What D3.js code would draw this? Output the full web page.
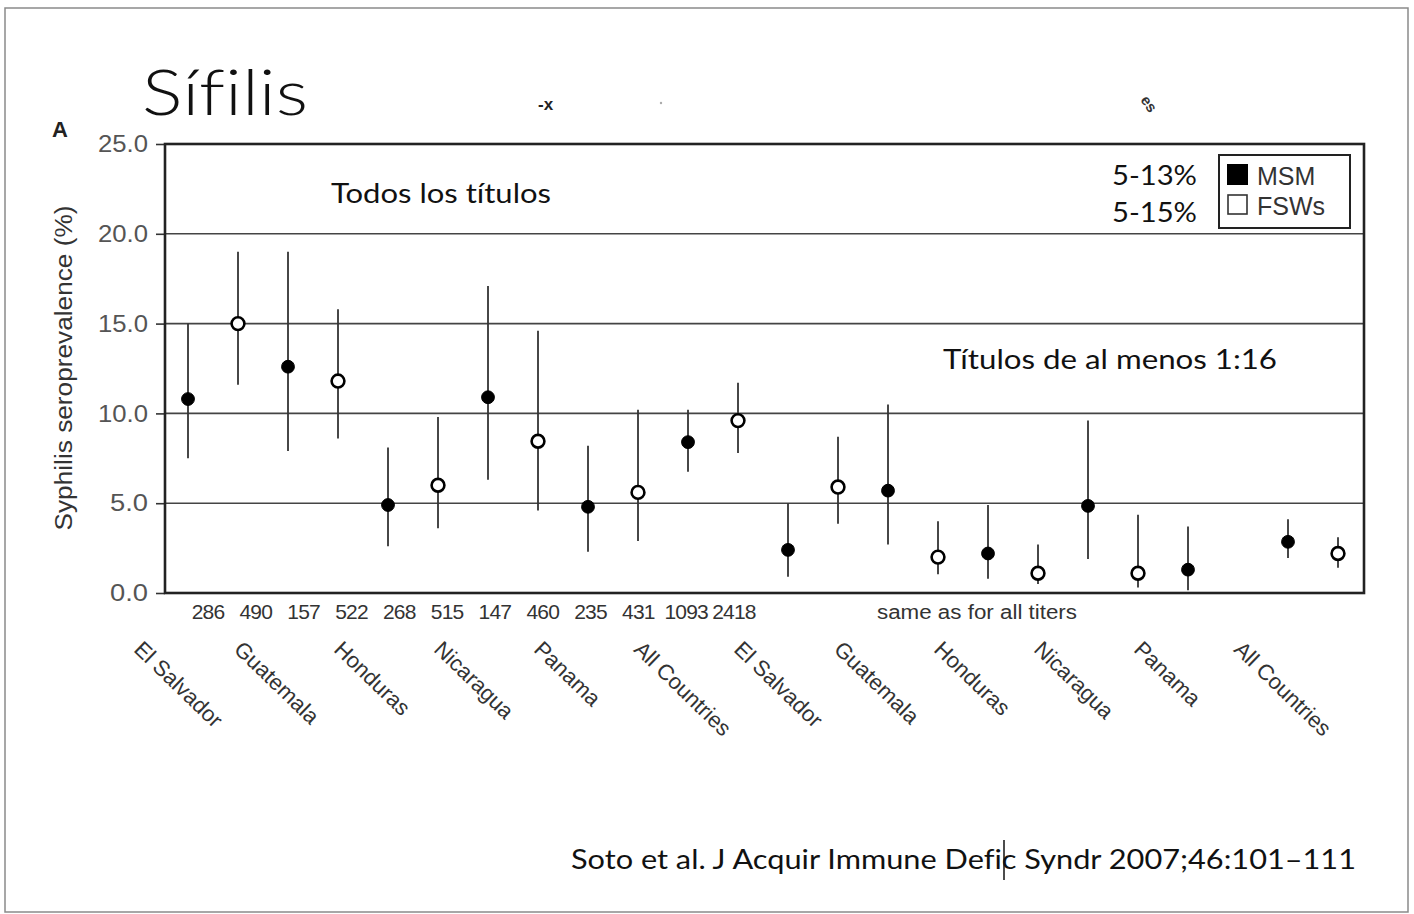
<!DOCTYPE html>
<html><head><meta charset="utf-8">
<script src="https://cdn.jsdelivr.net/npm/d3@7"></script>
<style>
html,body{margin:0;padding:0;background:#fff;}
svg{display:block;}
text{font-variant-ligatures:none;}
</style></head>
<body>
<svg id="chart" width="1414" height="914"></svg>
<script>
// ---- data ----
const countries = ["El Salvador","Guatemala","Honduras","Nicaragua","Panama","All Countries"];
const titerGroups = ["Todos los títulos","Títulos de al menos 1:16"];
const yTicks = [0, 5, 10, 15, 20, 25];
const sampleSizes = ["286","490","157","522","268","515","147","460","235","431","1093","2418"];
// All titers
const msmAll   = [10.8, 12.6, 4.9, 10.9, 4.8, 8.4];
const msmAllLo = [7.5, 7.9, 2.6, 6.3, 2.3, 6.75];
const msmAllHi = [15.0, 19.0, 8.1, 17.1, 8.2, 10.2];
const fswAll   = [15.0, 11.8, 6.0, 8.45, 5.6, 9.6];
const fswAllLo = [11.6, 8.6, 3.6, 4.6, 2.9, 7.8];
const fswAllHi = [19.0, 15.8, 9.8, 14.6, 10.2, 11.7];
// Titers >= 1:16
const msm16   = [2.4, 5.7, 2.2, 4.85, 1.3, 2.85];
const msm16Lo = [0.9, 2.7, 0.8, 1.9, 0.15, 1.95];
const msm16Hi = [5.0, 10.5, 4.9, 9.6, 3.7, 4.1];
const fsw16   = [5.9, 2.0, 1.1, 1.1, null, 2.2];
const fsw16Lo = [3.85, 1.05, 0.5, 0.3, null, 1.4];
const fsw16Hi = [8.7, 4.0, 2.7, 4.35, null, 3.1];

// ---- build points ----
const series = [
  [msmAll, msmAllLo, msmAllHi, fswAll, fswAllLo, fswAllHi],
  [msm16, msm16Lo, msm16Hi, fsw16, fsw16Lo, fsw16Hi]
];
const points = [];
series.forEach((s, g) => {
  countries.forEach((c, ci) => {
    [0, 1].forEach(k => {
      const v = s[k*3][ci];
      if (v == null) return;
      points.push({slot: g*12 + ci*2 + k, v, lo: s[k*3+1][ci], hi: s[k*3+2][ci], msm: k === 0});
    });
  });
});

const svg = d3.select("#chart");
const sans = "'Liberation Sans', Arial, sans-serif";
const slide = "Lato, 'Open Sans', sans-serif";

// outer frame
svg.append("rect").attr("x",5).attr("y",8).attr("width",1403).attr("height",904)
  .attr("fill","none").attr("stroke","#8a8a8a").attr("stroke-width",1.5);

const L = 165, R = 1364, T = 144, B = 593;
const x = d3.scaleBand().domain(d3.range(24)).range([163, 1363]);
const cx = i => x(i) + x.bandwidth()/2;
const y = d3.scaleLinear().domain([0, 25]).range([B, T]);

// gridlines
svg.append("g").selectAll("line").data(yTicks.filter(t => t > 0 && t < 25)).join("line")
  .attr("x1", L).attr("x2", R).attr("y1", d => y(d)).attr("y2", d => y(d))
  .attr("stroke","#444").attr("stroke-width",1.6);

// y axis
const yAxis = svg.append("g").attr("transform", `translate(${L},0)`)
  .call(d3.axisLeft(y).tickValues(yTicks).tickFormat(d3.format(".1f")).tickSize(9).tickSizeOuter(0));
yAxis.select(".domain").remove();
yAxis.selectAll(".tick line").attr("stroke","#333").attr("stroke-width",1.6);
yAxis.selectAll(".tick text").attr("font-family", sans).attr("font-size", 24)
  .attr("fill","#555").attr("x",-17).attr("textLength",50).attr("lengthAdjust","spacingAndGlyphs");
yAxis.selectAll(".tick text").filter(d => d < 10).attr("textLength",38);

// frame
svg.append("rect").attr("x",L).attr("y",T).attr("width",R-L).attr("height",B-T)
  .attr("fill","none").attr("stroke","#222").attr("stroke-width",2.6);

// y title
svg.append("text").attr("transform","translate(72,368) rotate(-90)")
  .attr("text-anchor","middle").attr("font-family",sans).attr("font-size",23).attr("fill","#333")
  .attr("textLength",325).attr("lengthAdjust","spacingAndGlyphs")
  .text("Syphilis seroprevalence (%)");

// panel letter
svg.append("text").attr("x",52).attr("y",137).attr("font-family",sans).attr("font-weight","bold")
  .attr("font-size",22).attr("fill","#222").text("A");

// error bars
svg.append("g").selectAll("line").data(points).join("line")
  .attr("x1", d => cx(d.slot)).attr("x2", d => cx(d.slot))
  .attr("y1", d => y(d.hi)).attr("y2", d => y(d.lo))
  .attr("stroke","#333").attr("stroke-width",1.8);

// markers
svg.append("g").selectAll("circle").data(points).join("circle")
  .attr("cx", d => cx(d.slot)).attr("cy", d => y(d.v)).attr("r", 6.4)
  .attr("fill", d => d.msm ? "#000" : "#fff")
  .attr("stroke","#000").attr("stroke-width", d => d.msm ? 1 : 2.6);

// sample sizes
const nx = d3.scaleLinear().domain([0, 11]).range([208, 734]);
svg.append("g").selectAll("text").data(sampleSizes).join("text")
  .attr("x", (d, i) => nx(i)).attr("y", 619).attr("text-anchor","middle")
  .attr("font-family",sans).attr("font-size",21).attr("letter-spacing",-0.8).attr("fill","#333")
  .text(d => d);
svg.append("text").attr("x",977).attr("y",619).attr("text-anchor","middle")
  .attr("font-family",sans).attr("font-size",20).attr("fill","#333")
  .attr("textLength",200).attr("lengthAdjust","spacingAndGlyphs")
  .text("same as for all titers");

// country labels
const labelData = [];
[0,1].forEach(g => countries.forEach((c, ci) => labelData.push({c, slot: g*12 + ci*2})));
svg.append("g").selectAll("text").data(labelData).join("text")
  .attr("transform", d => `translate(${cx(d.slot) - 43},${638}) rotate(44)`)
  .attr("dy","0.8em").attr("font-family",sans).attr("font-size",22).attr("fill","#333")
  .text(d => d.c);

// legend
const lg = svg.append("g");
lg.append("rect").attr("x",1219).attr("y",155).attr("width",131).attr("height",73)
  .attr("fill","#fff").attr("stroke","#222").attr("stroke-width",2);
lg.append("rect").attr("x",1227).attr("y",164).attr("width",21).attr("height",21).attr("fill","#000");
lg.append("rect").attr("x",1228).attr("y",195).attr("width",19).attr("height",19)
  .attr("fill","#fff").attr("stroke","#333").attr("stroke-width",1.6);
lg.append("text").attr("x",1257).attr("y",185).attr("font-family",sans).attr("font-size",25)
  .attr("fill","#333").text("MSM");
lg.append("text").attr("x",1257).attr("y",215).attr("font-family",sans).attr("font-size",25)
  .attr("fill","#333").text("FSWs");

// slide annotations
svg.append("text").attr("x",142).attr("y",115).attr("font-family",slide).attr("font-size",64)
  .attr("font-weight",300).attr("fill","#111").attr("textLength",166).attr("lengthAdjust","spacingAndGlyphs")
  .text("Sífilis");
svg.append("text").attr("x",331).attr("y",203).attr("font-family",slide).attr("font-size",26)
  .attr("fill","#111").attr("textLength",220).attr("lengthAdjust","spacingAndGlyphs")
  .text(titerGroups[0]);
svg.append("text").attr("x",943).attr("y",369).attr("font-family",slide).attr("font-size",26)
  .attr("fill","#111").attr("textLength",334).attr("lengthAdjust","spacingAndGlyphs")
  .text(titerGroups[1]);
svg.append("text").attr("x",1112).attr("y",185).attr("font-family",slide).attr("font-size",26)
  .attr("fill","#111").attr("textLength",85).attr("lengthAdjust","spacingAndGlyphs").text("5-13%");
svg.append("text").attr("x",1112).attr("y",222).attr("font-family",slide).attr("font-size",26)
  .attr("fill","#111").attr("textLength",85).attr("lengthAdjust","spacingAndGlyphs").text("5-15%");
svg.append("text").attr("x",571).attr("y",869).attr("font-family",slide).attr("font-size",27)
  .attr("fill","#111").attr("textLength",785).attr("lengthAdjust","spacingAndGlyphs")
  .text("Soto et al. J Acquir Immune Defic Syndr 2007;46:101–111");
// text cursor artifact
svg.append("line").attr("x1",1004).attr("x2",1004).attr("y1",840).attr("y2",880)
  .attr("stroke","#111").attr("stroke-width",1.5);

// cropped fragments
svg.append("text").attr("x",538).attr("y",110).attr("font-family",sans).attr("font-size",17)
  .attr("font-weight","bold").attr("fill","#222").text("-x");
svg.append("circle").attr("cx",661).attr("cy",103).attr("r",1.2).attr("fill","#aaa");
svg.append("text").attr("transform","translate(1140,100) rotate(55)").attr("font-family",sans)
  .attr("font-size",15).attr("font-weight","bold").attr("fill","#333").text("es");
</script>
</body></html>
